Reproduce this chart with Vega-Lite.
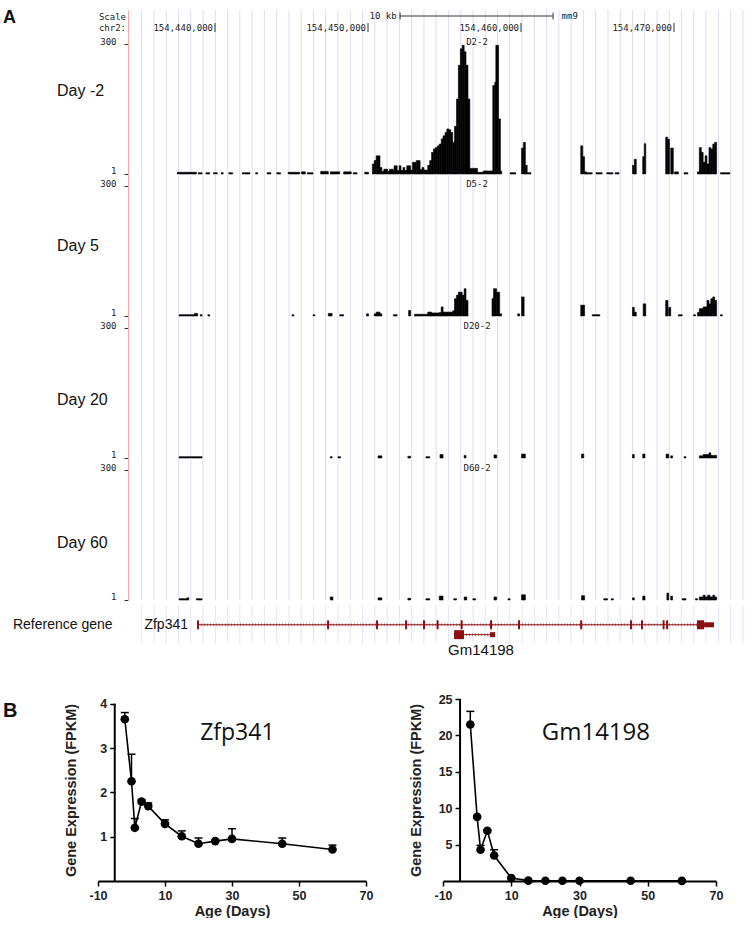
{
"$schema": "https://vega.github.io/schema/vega-lite/v6.json",
"background": "white",
"padding": {"top": 8, "left": 0, "right": 0, "bottom": 0},
"config": {"view": {"stroke": null}, "axis": {"grid": false}},
"datasets": {
"grid": [{"kb":-1.20},{"kb":-0.39},{"kb":0.41},{"kb":1.21},{"kb":2.01},{"kb":2.81},{"kb":3.62},{"kb":4.42},{"kb":5.22},{"kb":6.02},{"kb":6.82},{"kb":7.63},{"kb":8.43},{"kb":9.23},{"kb":10.03},{"kb":10.83},{"kb":11.64},{"kb":12.44},{"kb":13.24},{"kb":14.04},{"kb":14.84},{"kb":15.65},{"kb":16.45},{"kb":17.25},{"kb":18.05},{"kb":18.85},{"kb":19.66},{"kb":20.46},{"kb":21.26},{"kb":22.06},{"kb":22.86},{"kb":23.66},{"kb":24.47},{"kb":25.27},{"kb":26.07},{"kb":26.87},{"kb":27.67},{"kb":28.48},{"kb":29.28},{"kb":30.08},{"kb":30.88},{"kb":31.68},{"kb":32.49},{"kb":33.29},{"kb":34.09},{"kb":34.89},{"kb":35.69},{"kb":36.50},{"kb":37.30},{"kb":38.10}],
"coords": [{"label":"154,440,000","kb":3.595},{"label":"154,450,000","kb":13.595},{"label":"154,460,000","kb":23.595},{"label":"154,470,000","kb":33.595}],
"genes": [{"gene":"Zfp341","start":2.48,"end":36.21,"lane":1},{"gene":"Gm14198","start":19.22,"end":21.90,"lane":2}],
"exons": [
{"gene":"Zfp341","s":2.42,"e":2.55,"lane":1,"kind":"cds"},
{"gene":"Zfp341","s":10.92,"e":11.05,"lane":1,"kind":"cds"},
{"gene":"Zfp341","s":14.12,"e":14.25,"lane":1,"kind":"cds"},
{"gene":"Zfp341","s":16.02,"e":16.15,"lane":1,"kind":"cds"},
{"gene":"Zfp341","s":17.19,"e":17.32,"lane":1,"kind":"cds"},
{"gene":"Zfp341","s":18.08,"e":18.21,"lane":1,"kind":"cds"},
{"gene":"Zfp341","s":19.65,"e":19.78,"lane":1,"kind":"cds"},
{"gene":"Zfp341","s":21.57,"e":21.70,"lane":1,"kind":"cds"},
{"gene":"Zfp341","s":23.40,"e":23.53,"lane":1,"kind":"cds"},
{"gene":"Zfp341","s":27.46,"e":27.59,"lane":1,"kind":"cds"},
{"gene":"Zfp341","s":30.72,"e":30.85,"lane":1,"kind":"cds"},
{"gene":"Zfp341","s":31.44,"e":31.57,"lane":1,"kind":"cds"},
{"gene":"Zfp341","s":32.85,"e":32.98,"lane":1,"kind":"cds"},
{"gene":"Zfp341","s":33.08,"e":33.21,"lane":1,"kind":"cds"},
{"gene":"Zfp341","s":35.10,"e":35.56,"lane":1,"kind":"cds"},
{"gene":"Zfp341","s":35.56,"e":36.21,"lane":1,"kind":"utr"},
{"gene":"Gm14198","s":19.22,"e":19.87,"lane":2,"kind":"cds"},
{"gene":"Gm14198","s":21.57,"e":21.90,"lane":2,"kind":"utr"}
],
"cov": [
{"t":"D2-2","s":1.13,"e":2.38,"v":4},{"t":"D2-2","s":2.50,"e":2.75,"v":3},{"t":"D2-2","s":3.00,"e":3.25,"v":3},{"t":"D2-2","s":3.50,"e":3.75,"v":3},{"t":"D2-2","s":4.00,"e":4.13,"v":3},{"t":"D2-2","s":4.50,"e":4.75,"v":3},{"t":"D2-2","s":5.38,"e":5.88,"v":3},{"t":"D2-2","s":6.25,"e":6.38,"v":3},{"t":"D2-2","s":7.00,"e":7.25,"v":3},{"t":"D2-2","s":7.63,"e":7.88,"v":3},{"t":"D2-2","s":8.38,"e":9.13,"v":4},{"t":"D2-2","s":9.25,"e":9.50,"v":5},{"t":"D2-2","s":9.63,"e":10.00,"v":3},{"t":"D2-2","s":10.50,"e":11.00,"v":6},{"t":"D2-2","s":11.13,"e":11.75,"v":5},{"t":"D2-2","s":12.00,"e":12.50,"v":5},{"t":"D2-2","s":12.63,"e":12.88,"v":3},{"t":"D2-2","s":13.38,"e":13.63,"v":4},
{"t":"D2-2","s":13.88,"e":14.00,"v":23},{"t":"D2-2","s":14.00,"e":14.13,"v":31},{"t":"D2-2","s":14.13,"e":14.38,"v":42},{"t":"D2-2","s":14.38,"e":14.50,"v":15},{"t":"D2-2","s":14.50,"e":14.63,"v":6},{"t":"D2-2","s":14.63,"e":14.88,"v":11},{"t":"D2-2","s":14.88,"e":15.00,"v":6},{"t":"D2-2","s":15.00,"e":15.25,"v":11},{"t":"D2-2","s":15.25,"e":15.30,"v":7},{"t":"D2-2","s":15.30,"e":15.50,"v":19},{"t":"D2-2","s":15.50,"e":15.63,"v":8},{"t":"D2-2","s":15.63,"e":15.75,"v":19},{"t":"D2-2","s":15.75,"e":15.88,"v":8},{"t":"D2-2","s":15.88,"e":16.00,"v":15},{"t":"D2-2","s":16.00,"e":16.13,"v":8},{"t":"D2-2","s":16.13,"e":16.38,"v":19},{"t":"D2-2","s":16.38,"e":16.50,"v":9},{"t":"D2-2","s":16.50,"e":16.75,"v":27},{"t":"D2-2","s":16.75,"e":17.00,"v":31},{"t":"D2-2","s":17.00,"e":17.13,"v":10},{"t":"D2-2","s":17.13,"e":17.25,"v":15},{"t":"D2-2","s":17.25,"e":17.50,"v":9},
{"t":"D2-2","s":17.50,"e":17.63,"v":20},{"t":"D2-2","s":17.63,"e":17.75,"v":31},{"t":"D2-2","s":17.75,"e":17.88,"v":50},{"t":"D2-2","s":17.88,"e":18.00,"v":58},{"t":"D2-2","s":18.00,"e":18.13,"v":61},{"t":"D2-2","s":18.13,"e":18.25,"v":65},{"t":"D2-2","s":18.25,"e":18.38,"v":69},{"t":"D2-2","s":18.38,"e":18.50,"v":81},{"t":"D2-2","s":18.50,"e":18.63,"v":88},{"t":"D2-2","s":18.63,"e":18.75,"v":96},{"t":"D2-2","s":18.75,"e":18.88,"v":104},{"t":"D2-2","s":18.88,"e":19.00,"v":102},{"t":"D2-2","s":19.00,"e":19.13,"v":96},{"t":"D2-2","s":19.13,"e":19.25,"v":73},{"t":"D2-2","s":19.25,"e":19.38,"v":110},
{"t":"D2-2","s":19.38,"e":19.50,"v":173},{"t":"D2-2","s":19.50,"e":19.63,"v":251},{"t":"D2-2","s":19.63,"e":19.75,"v":289},{"t":"D2-2","s":19.75,"e":19.88,"v":297},{"t":"D2-2","s":19.88,"e":20.00,"v":282},{"t":"D2-2","s":20.00,"e":20.13,"v":251},{"t":"D2-2","s":20.13,"e":20.25,"v":173},{"t":"D2-2","s":20.25,"e":20.75,"v":13},{"t":"D2-2","s":20.75,"e":21.13,"v":4},{"t":"D2-2","s":21.13,"e":21.75,"v":7},
{"t":"D2-2","s":21.75,"e":21.88,"v":204},{"t":"D2-2","s":21.88,"e":21.95,"v":212},{"t":"D2-2","s":21.95,"e":22.13,"v":297},{"t":"D2-2","s":22.13,"e":22.25,"v":127},{"t":"D2-2","s":22.25,"e":22.33,"v":7},{"t":"D2-2","s":22.88,"e":23.25,"v":3},
{"t":"D2-2","s":23.63,"e":23.75,"v":60},{"t":"D2-2","s":23.75,"e":23.88,"v":73},{"t":"D2-2","s":23.88,"e":24.00,"v":20},{"t":"D2-2","s":24.00,"e":24.25,"v":3},
{"t":"D2-2","s":27.50,"e":27.63,"v":65},{"t":"D2-2","s":27.63,"e":27.75,"v":40},{"t":"D2-2","s":27.75,"e":27.88,"v":5},{"t":"D2-2","s":27.88,"e":28.25,"v":3},{"t":"D2-2","s":28.50,"e":28.90,"v":3},{"t":"D2-2","s":29.20,"e":29.60,"v":3},{"t":"D2-2","s":29.75,"e":30.00,"v":3},
{"t":"D2-2","s":30.88,"e":31.00,"v":20},{"t":"D2-2","s":31.00,"e":31.13,"v":34},{"t":"D2-2","s":31.55,"e":31.65,"v":40},{"t":"D2-2","s":31.65,"e":31.75,"v":70},
{"t":"D2-2","s":33.05,"e":33.18,"v":85},{"t":"D2-2","s":33.18,"e":33.30,"v":80},{"t":"D2-2","s":33.38,"e":33.55,"v":60},{"t":"D2-2","s":33.63,"e":33.88,"v":5},{"t":"D2-2","s":34.25,"e":34.50,"v":3},
{"t":"D2-2","s":35.13,"e":35.25,"v":5},{"t":"D2-2","s":35.25,"e":35.38,"v":61},{"t":"D2-2","s":35.38,"e":35.50,"v":50},{"t":"D2-2","s":35.50,"e":35.63,"v":27},{"t":"D2-2","s":35.63,"e":35.75,"v":42},{"t":"D2-2","s":35.75,"e":35.88,"v":23},{"t":"D2-2","s":35.88,"e":36.00,"v":61},{"t":"D2-2","s":36.00,"e":36.13,"v":58},{"t":"D2-2","s":36.13,"e":36.25,"v":69},{"t":"D2-2","s":36.25,"e":36.38,"v":73},{"t":"D2-2","s":36.63,"e":37.25,"v":3},
{"t":"D5-2","s":1.25,"e":2.25,"v":3},{"t":"D5-2","s":2.25,"e":2.45,"v":6},{"t":"D5-2","s":2.63,"e":2.75,"v":3},{"t":"D5-2","s":3.13,"e":3.25,"v":3},{"t":"D5-2","s":8.63,"e":8.75,"v":3},{"t":"D5-2","s":10.00,"e":10.13,"v":3},{"t":"D5-2","s":11.00,"e":11.25,"v":6},{"t":"D5-2","s":11.75,"e":12.00,"v":3},{"t":"D5-2","s":13.50,"e":13.63,"v":5},{"t":"D5-2","s":14.00,"e":14.13,"v":5},{"t":"D5-2","s":14.13,"e":14.38,"v":9},{"t":"D5-2","s":14.38,"e":14.50,"v":5},{"t":"D5-2","s":15.25,"e":15.50,"v":3},{"t":"D5-2","s":16.25,"e":16.38,"v":13},{"t":"D5-2","s":16.63,"e":17.50,"v":4},{"t":"D5-2","s":17.50,"e":17.75,"v":9},{"t":"D5-2","s":17.75,"e":18.25,"v":7},{"t":"D5-2","s":18.25,"e":18.38,"v":8},{"t":"D5-2","s":18.38,"e":18.50,"v":21},{"t":"D5-2","s":18.50,"e":19.13,"v":9},{"t":"D5-2","s":19.13,"e":19.25,"v":12},{"t":"D5-2","s":19.25,"e":19.38,"v":40},{"t":"D5-2","s":19.38,"e":19.50,"v":48},{"t":"D5-2","s":19.50,"e":19.75,"v":55},{"t":"D5-2","s":19.75,"e":19.88,"v":48},{"t":"D5-2","s":19.88,"e":20.00,"v":63},{"t":"D5-2","s":20.00,"e":20.13,"v":36},{"t":"D5-2","s":21.70,"e":21.80,"v":40},{"t":"D5-2","s":21.80,"e":22.00,"v":63},{"t":"D5-2","s":22.00,"e":22.20,"v":55},{"t":"D5-2","s":22.20,"e":22.33,"v":5},{"t":"D5-2","s":23.38,"e":23.50,"v":5},{"t":"D5-2","s":23.63,"e":23.80,"v":44},{"t":"D5-2","s":27.50,"e":27.75,"v":25},{"t":"D5-2","s":28.25,"e":28.75,"v":3},{"t":"D5-2","s":30.88,"e":31.00,"v":20},{"t":"D5-2","s":31.00,"e":31.13,"v":9},{"t":"D5-2","s":31.58,"e":31.75,"v":28},{"t":"D5-2","s":33.05,"e":33.20,"v":36},{"t":"D5-2","s":33.25,"e":33.38,"v":20},{"t":"D5-2","s":33.88,"e":34.13,"v":3},{"t":"D5-2","s":34.88,"e":35.00,"v":3},{"t":"D5-2","s":35.13,"e":35.25,"v":8},{"t":"D5-2","s":35.25,"e":35.50,"v":17},{"t":"D5-2","s":35.50,"e":35.75,"v":21},{"t":"D5-2","s":35.75,"e":35.88,"v":36},{"t":"D5-2","s":35.88,"e":36.00,"v":28},{"t":"D5-2","s":36.00,"e":36.13,"v":40},{"t":"D5-2","s":36.13,"e":36.25,"v":44},{"t":"D5-2","s":36.25,"e":36.38,"v":36},{"t":"D5-2","s":36.63,"e":36.75,"v":3},
{"t":"D20-2","s":1.25,"e":2.75,"v":3},{"t":"D20-2","s":11.13,"e":11.25,"v":3},{"t":"D20-2","s":11.63,"e":11.80,"v":3},{"t":"D20-2","s":14.25,"e":14.50,"v":5},{"t":"D20-2","s":16.20,"e":16.38,"v":4},{"t":"D20-2","s":17.38,"e":17.63,"v":3},{"t":"D20-2","s":18.30,"e":18.50,"v":8},{"t":"D20-2","s":19.88,"e":20.00,"v":6},{"t":"D20-2","s":21.83,"e":22.00,"v":7},{"t":"D20-2","s":23.63,"e":23.88,"v":9},{"t":"D20-2","s":27.55,"e":27.70,"v":9},{"t":"D20-2","s":30.88,"e":31.00,"v":8},{"t":"D20-2","s":31.55,"e":31.70,"v":9},{"t":"D20-2","s":33.08,"e":33.25,"v":9},{"t":"D20-2","s":33.38,"e":33.50,"v":5},{"t":"D20-2","s":34.25,"e":34.38,"v":3},{"t":"D20-2","s":35.25,"e":35.50,"v":5},{"t":"D20-2","s":35.50,"e":35.88,"v":8},{"t":"D20-2","s":35.88,"e":36.00,"v":12},{"t":"D20-2","s":36.00,"e":36.38,"v":6},
{"t":"D60-2","s":1.25,"e":1.75,"v":3},{"t":"D60-2","s":1.75,"e":1.88,"v":5},{"t":"D60-2","s":2.38,"e":2.75,"v":3},{"t":"D60-2","s":11.13,"e":11.30,"v":7},{"t":"D60-2","s":14.25,"e":14.50,"v":5},{"t":"D60-2","s":16.20,"e":16.38,"v":4},{"t":"D60-2","s":17.38,"e":17.63,"v":3},{"t":"D60-2","s":18.25,"e":18.50,"v":9},{"t":"D60-2","s":19.20,"e":19.38,"v":3},{"t":"D60-2","s":19.88,"e":20.05,"v":7},{"t":"D60-2","s":20.45,"e":20.63,"v":3},{"t":"D60-2","s":21.83,"e":22.00,"v":7},{"t":"D60-2","s":22.75,"e":22.88,"v":3},{"t":"D60-2","s":23.63,"e":23.88,"v":12},{"t":"D60-2","s":27.55,"e":27.75,"v":10},{"t":"D60-2","s":29.00,"e":29.25,"v":3},{"t":"D60-2","s":29.50,"e":29.63,"v":3},{"t":"D60-2","s":30.88,"e":31.00,"v":5},{"t":"D60-2","s":31.55,"e":31.70,"v":9},{"t":"D60-2","s":33.13,"e":33.25,"v":16},{"t":"D60-2","s":33.38,"e":33.50,"v":9},{"t":"D60-2","s":34.13,"e":34.38,"v":3},{"t":"D60-2","s":35.00,"e":35.13,"v":3},{"t":"D60-2","s":35.25,"e":35.50,"v":7},{"t":"D60-2","s":35.50,"e":35.63,"v":11},{"t":"D60-2","s":35.63,"e":35.80,"v":7},{"t":"D60-2","s":35.80,"e":35.95,"v":11},{"t":"D60-2","s":35.95,"e":36.13,"v":7},{"t":"D60-2","s":36.13,"e":36.25,"v":11},{"t":"D60-2","s":36.25,"e":36.38,"v":7}
],
"zfp": [{"age":-2,"mean":3.65,"upper":3.80},{"age":0,"mean":2.25,"upper":2.86},{"age":1,"mean":1.20,"upper":1.41},{"age":3,"mean":1.79,"upper":1.83},{"age":5,"mean":1.69,"upper":1.76},{"age":10,"mean":1.29,"upper":1.38},{"age":15,"mean":1.01,"upper":1.13},{"age":20,"mean":0.84,"upper":0.97},{"age":25,"mean":0.90,"upper":0.92},{"age":30,"mean":0.95,"upper":1.18},{"age":45,"mean":0.84,"upper":0.97},{"age":60,"mean":0.71,"upper":0.81}],
"gm": [{"age":-2,"mean":21.5,"upper":23.3},{"age":0,"mean":8.8,"upper":8.9},{"age":1,"mean":4.3,"upper":4.9},{"age":3,"mean":6.9,"upper":7.0},{"age":5,"mean":3.5,"upper":4.3},{"age":10,"mean":0.4,"upper":0.5},{"age":15,"mean":0.05,"upper":0.1},{"age":20,"mean":0.03,"upper":0.05},{"age":25,"mean":0.03,"upper":0.05},{"age":30,"mean":0.03,"upper":0.05},{"age":45,"mean":0.03,"upper":0.05},{"age":60,"mean":0.02,"upper":0.04}]
},
"spacing": 0,
"bounds": "flush",
"vconcat": [
 {"width": 754, "height": 22, "layer": [
  {"data": {"name": "grid"}, "mark": {"type": "rule", "color": "#dcdcf6", "strokeWidth": 1}, "encoding": {"x": {"field": "kb", "type": "quantitative", "scale": {"domain": [-10.458, 38.824], "nice": false, "zero": false}, "axis": null}, "y": {"datum": 0, "type": "quantitative", "scale": {"domain": [0, 22], "reverse": true, "nice": false, "zero": false}, "axis": {"orient": "left", "offset": -128, "ticks": false, "labels": false, "title": null, "grid": false, "domainColor": "#f2aaaa", "domainWidth": 1}}, "y2": {"datum": 22}}},
  {"data": {"values": [{}]}, "mark": {"type": "text", "text": "A", "font": "Liberation Sans", "fontSize": 18, "fontWeight": "bold", "align": "left", "baseline": "alphabetic", "color": "#111"}, "encoding": {"x": {"datum": -10.26, "type": "quantitative"}, "y": {"datum": 12.5, "type": "quantitative"}}},
  {"data": {"values": [{}]}, "mark": {"type": "text", "text": "Scale", "font": "DejaVu Sans Mono", "fontSize": 9, "align": "right", "baseline": "middle", "color": "#222"}, "encoding": {"x": {"datum": -2.22, "type": "quantitative"}, "y": {"datum": 7, "type": "quantitative"}}},
  {"data": {"values": [{}]}, "mark": {"type": "text", "text": "chr2:", "font": "DejaVu Sans Mono", "fontSize": 9, "align": "right", "baseline": "middle", "color": "#222"}, "encoding": {"x": {"datum": -2.22, "type": "quantitative"}, "y": {"datum": 18, "type": "quantitative"}}},
  {"data": {"values": [{}]}, "mark": {"type": "text", "text": "10 kb", "font": "DejaVu Sans Mono", "fontSize": 9, "align": "right", "baseline": "middle", "color": "#222"}, "encoding": {"x": {"datum": 15.47, "type": "quantitative"}, "y": {"datum": 6, "type": "quantitative"}}},
  {"data": {"values": [{}]}, "mark": {"type": "text", "text": "mm9", "font": "DejaVu Sans Mono", "fontSize": 9, "align": "left", "baseline": "middle", "color": "#222"}, "encoding": {"x": {"datum": 26.25, "type": "quantitative"}, "y": {"datum": 6, "type": "quantitative"}}},
  {"data": {"values": [{}]}, "mark": {"type": "rule", "color": "#333", "strokeWidth": 1}, "encoding": {"x": {"datum": 15.69, "type": "quantitative"}, "x2": {"datum": 25.69}, "y": {"datum": 6, "type": "quantitative"}}},
  {"data": {"values": [{}]}, "mark": {"type": "rule", "color": "#333", "strokeWidth": 1}, "encoding": {"x": {"datum": 15.69, "type": "quantitative"}, "y": {"datum": 2.5, "type": "quantitative"}, "y2": {"datum": 9.5}}},
  {"data": {"values": [{}]}, "mark": {"type": "rule", "color": "#333", "strokeWidth": 1}, "encoding": {"x": {"datum": 25.69, "type": "quantitative"}, "y": {"datum": 2.5, "type": "quantitative"}, "y2": {"datum": 9.5}}},
  {"data": {"name": "coords"}, "mark": {"type": "text", "font": "DejaVu Sans Mono", "fontSize": 9, "align": "right", "baseline": "middle", "dx": -2, "color": "#222"}, "encoding": {"x": {"field": "kb", "type": "quantitative"}, "y": {"datum": 18, "type": "quantitative"}, "text": {"field": "label"}}},
  {"data": {"name": "coords"}, "mark": {"type": "rule", "color": "#333", "strokeWidth": 1}, "encoding": {"x": {"field": "kb", "type": "quantitative"}, "y": {"datum": 13, "type": "quantitative"}, "y2": {"datum": 22}}}
 ]},
 {"width": 754, "height": 142, "layer": [
  {"data": {"name": "grid"}, "mark": {"type": "rule", "color": "#dcdcf6", "strokeWidth": 1}, "encoding": {"x": {"field": "kb", "type": "quantitative", "scale": {"domain": [-10.458, 38.824], "nice": false, "zero": false}, "axis": null}}},
  {"data": {"name": "cov"}, "transform": [{"filter": "datum.t === 'D2-2'"}], "mark": {"type": "rect", "color": "#000", "stroke": "#000", "strokeWidth": 0.6}, "encoding": {"x": {"field": "s", "type": "quantitative"}, "x2": {"field": "e"}, "y": {"field": "v", "type": "quantitative", "scale": {"domain": [0, 327.7], "nice": false, "zero": true}, "axis": {"orient": "left", "offset": -128, "values": [1, 300], "title": null, "grid": false, "domainColor": "#f2aaaa", "domainWidth": 1, "tickColor": "#333", "tickSize": 4, "tickWidth": 1, "labelFont": "DejaVu Sans Mono", "labelFontSize": 9, "labelColor": "#222", "labelBaseline": "alphabetic", "labelPadding": 8}}, "y2": {"datum": 0}}},
  {"data": {"values": [{}]}, "mark": {"type": "text", "text": "D2-2", "font": "DejaVu Sans Mono", "fontSize": 9, "color": "#222", "align": "center", "baseline": "middle"}, "encoding": {"x": {"datum": 20.72, "type": "quantitative"}, "y": {"datum": 305, "type": "quantitative"}}},
  {"data": {"values": [{}]}, "mark": {"type": "text", "text": "Day -2", "font": "Liberation Sans", "fontSize": 16, "color": "#111", "align": "left", "baseline": "middle"}, "encoding": {"x": {"datum": -6.73, "type": "quantitative"}, "y": {"datum": 191, "type": "quantitative"}}}
 ]},
 {"width": 754, "height": 142, "layer": [
  {"data": {"name": "grid"}, "mark": {"type": "rule", "color": "#dcdcf6", "strokeWidth": 1}, "encoding": {"x": {"field": "kb", "type": "quantitative", "scale": {"domain": [-10.458, 38.824], "nice": false, "zero": false}, "axis": null}}},
  {"data": {"name": "cov"}, "transform": [{"filter": "datum.t === 'D5-2'"}], "mark": {"type": "rect", "color": "#000", "stroke": "#000", "strokeWidth": 0.6}, "encoding": {"x": {"field": "s", "type": "quantitative"}, "x2": {"field": "e"}, "y": {"field": "v", "type": "quantitative", "scale": {"domain": [0, 327.7], "nice": false, "zero": true}, "axis": {"orient": "left", "offset": -128, "values": [1, 300], "title": null, "grid": false, "domainColor": "#f2aaaa", "domainWidth": 1, "tickColor": "#333", "tickSize": 4, "tickWidth": 1, "labelFont": "DejaVu Sans Mono", "labelFontSize": 9, "labelColor": "#222", "labelBaseline": "alphabetic", "labelPadding": 8}}, "y2": {"datum": 0}}},
  {"data": {"values": [{}]}, "mark": {"type": "text", "text": "D5-2", "font": "DejaVu Sans Mono", "fontSize": 9, "color": "#222", "align": "center", "baseline": "middle"}, "encoding": {"x": {"datum": 20.72, "type": "quantitative"}, "y": {"datum": 305, "type": "quantitative"}}},
  {"data": {"values": [{}]}, "mark": {"type": "text", "text": "Day 5", "font": "Liberation Sans", "fontSize": 16, "color": "#111", "align": "left", "baseline": "middle"}, "encoding": {"x": {"datum": -6.73, "type": "quantitative"}, "y": {"datum": 161, "type": "quantitative"}}}
 ]},
 {"width": 754, "height": 142, "layer": [
  {"data": {"name": "grid"}, "mark": {"type": "rule", "color": "#dcdcf6", "strokeWidth": 1}, "encoding": {"x": {"field": "kb", "type": "quantitative", "scale": {"domain": [-10.458, 38.824], "nice": false, "zero": false}, "axis": null}}},
  {"data": {"name": "cov"}, "transform": [{"filter": "datum.t === 'D20-2'"}], "mark": {"type": "rect", "color": "#000", "stroke": "#000", "strokeWidth": 0.6}, "encoding": {"x": {"field": "s", "type": "quantitative"}, "x2": {"field": "e"}, "y": {"field": "v", "type": "quantitative", "scale": {"domain": [0, 327.7], "nice": false, "zero": true}, "axis": {"orient": "left", "offset": -128, "values": [1, 300], "title": null, "grid": false, "domainColor": "#f2aaaa", "domainWidth": 1, "tickColor": "#333", "tickSize": 4, "tickWidth": 1, "labelFont": "DejaVu Sans Mono", "labelFontSize": 9, "labelColor": "#222", "labelBaseline": "alphabetic", "labelPadding": 8}}, "y2": {"datum": 0}}},
  {"data": {"values": [{}]}, "mark": {"type": "text", "text": "D20-2", "font": "DejaVu Sans Mono", "fontSize": 9, "color": "#222", "align": "center", "baseline": "middle"}, "encoding": {"x": {"datum": 20.72, "type": "quantitative"}, "y": {"datum": 305, "type": "quantitative"}}},
  {"data": {"values": [{}]}, "mark": {"type": "text", "text": "Day 20", "font": "Liberation Sans", "fontSize": 16, "color": "#111", "align": "left", "baseline": "middle"}, "encoding": {"x": {"datum": -6.73, "type": "quantitative"}, "y": {"datum": 134, "type": "quantitative"}}}
 ]},
 {"width": 754, "height": 142, "layer": [
  {"data": {"name": "grid"}, "mark": {"type": "rule", "color": "#dcdcf6", "strokeWidth": 1}, "encoding": {"x": {"field": "kb", "type": "quantitative", "scale": {"domain": [-10.458, 38.824], "nice": false, "zero": false}, "axis": null}}},
  {"data": {"name": "cov"}, "transform": [{"filter": "datum.t === 'D60-2'"}], "mark": {"type": "rect", "color": "#000", "stroke": "#000", "strokeWidth": 0.6}, "encoding": {"x": {"field": "s", "type": "quantitative"}, "x2": {"field": "e"}, "y": {"field": "v", "type": "quantitative", "scale": {"domain": [0, 327.7], "nice": false, "zero": true}, "axis": {"orient": "left", "offset": -128, "values": [1, 300], "title": null, "grid": false, "domainColor": "#f2aaaa", "domainWidth": 1, "tickColor": "#333", "tickSize": 4, "tickWidth": 1, "labelFont": "DejaVu Sans Mono", "labelFontSize": 9, "labelColor": "#222", "labelBaseline": "alphabetic", "labelPadding": 8}}, "y2": {"datum": 0}}},
  {"data": {"values": [{}]}, "mark": {"type": "text", "text": "D60-2", "font": "DejaVu Sans Mono", "fontSize": 9, "color": "#222", "align": "center", "baseline": "middle"}, "encoding": {"x": {"datum": 20.72, "type": "quantitative"}, "y": {"datum": 305, "type": "quantitative"}}},
  {"data": {"values": [{}]}, "mark": {"type": "text", "text": "Day 60", "font": "Liberation Sans", "fontSize": 16, "color": "#111", "align": "left", "baseline": "middle"}, "encoding": {"x": {"datum": -6.73, "type": "quantitative"}, "y": {"datum": 131, "type": "quantitative"}}}
 ]},
 {"width": 754, "height": 99, "layer": [
  {"data": {"name": "grid"}, "mark": {"type": "rule", "color": "#dcdcf6", "strokeWidth": 1, "opacity": 0.8}, "encoding": {"x": {"field": "kb", "type": "quantitative", "scale": {"domain": [-10.458, 38.824], "nice": false, "zero": false}, "axis": null}, "y": {"datum": -1, "type": "quantitative", "scale": {"domain": [-1, 8], "reverse": true, "nice": false, "zero": false}, "axis": null}, "y2": {"datum": 2.9}}},
  {"data": {"name": "genes"}, "mark": {"type": "rule", "color": "#8b1010", "strokeWidth": 1}, "encoding": {"x": {"field": "start", "type": "quantitative"}, "x2": {"field": "end"}, "y": {"field": "lane", "type": "quantitative"}}},
  {"data": {"name": "genes"}, "mark": {"type": "rule", "color": "#8b1010", "strokeWidth": 3, "strokeDash": [1, 2], "opacity": 0.45}, "encoding": {"x": {"field": "start", "type": "quantitative"}, "x2": {"field": "end"}, "y": {"field": "lane", "type": "quantitative"}}},
  {"data": {"name": "exons"}, "mark": {"type": "bar", "orient": "horizontal", "color": "#8b1010"}, "encoding": {"x": {"field": "s", "type": "quantitative"}, "x2": {"field": "e"}, "y": {"field": "lane", "type": "quantitative"}, "size": {"field": "kind", "type": "ordinal", "scale": {"domain": ["cds", "utr"], "range": [9, 5]}, "legend": null}}},
  {"data": {"values": [{}]}, "mark": {"type": "text", "text": "Reference gene", "font": "Liberation Sans", "fontSize": 14, "color": "#111", "align": "left", "baseline": "middle"}, "encoding": {"x": {"datum": -9.61, "type": "quantitative"}, "y": {"datum": 1, "type": "quantitative"}}},
  {"data": {"values": [{}]}, "mark": {"type": "text", "text": "Zfp341", "font": "Liberation Sans", "fontSize": 14, "color": "#111", "align": "right", "baseline": "middle"}, "encoding": {"x": {"datum": 1.83, "type": "quantitative"}, "y": {"datum": 1, "type": "quantitative"}}},
  {"data": {"values": [{}]}, "mark": {"type": "text", "text": "Gm14198", "font": "Liberation Sans", "fontSize": 15, "color": "#111", "align": "center", "baseline": "middle"}, "encoding": {"x": {"datum": 20.98, "type": "quantitative"}, "y": {"datum": 3.545, "type": "quantitative"}}}
 ]},
 {"spacing": 77, "bounds": "flush", "hconcat": [
 {"width": 21, "height": 182, "data": {"values": []}, "mark": "point"},
 {"width": 268, "height": 182, "data": {"name": "zfp"}, "layer": [
  {"data": {"values": [{}]}, "mark": {"type": "rule", "color": "black", "strokeWidth": 2}, "encoding": {"x": {"datum": -5, "type": "quantitative"}, "y": {"datum": 0, "type": "quantitative"}, "y2": {"datum": 4}}},
  {"mark": {"type": "rule", "color": "black", "strokeWidth": 1.5}, "encoding": {"x": {"field": "age", "type": "quantitative"}, "y": {"field": "mean", "type": "quantitative"}, "y2": {"field": "upper"}}},
  {"mark": {"type": "tick", "orient": "horizontal", "color": "black", "size": 8, "thickness": 1.5, "opacity": 1}, "encoding": {"x": {"field": "age", "type": "quantitative"}, "y": {"field": "upper", "type": "quantitative"}}},
  {"mark": {"type": "line", "color": "black", "strokeWidth": 1.6}, "encoding": {
    "x": {"field": "age", "type": "quantitative", "scale": {"domain": [-10, 70], "nice": false, "zero": false}, "axis": {"values": [-10, 0, 10, 20, 30, 40, 50, 60, 70], "labelExpr": "'' + datum.value", "grid": false, "title": "Age (Days)", "titleFont": "Liberation Sans", "titleFontSize": 14.5, "titleFontWeight": "bold", "titleColor": "#222", "titlePadding": 3, "domainColor": "black", "domainWidth": 2, "tickColor": "black", "tickWidth": 1.5, "tickSize": 5, "labelFont": "Liberation Sans", "labelFontSize": 12.5, "labelFontWeight": "bold", "labelColor": "#222", "labelPadding": 3, "labelFlush": false, "labelOverlap": false}},
    "y": {"field": "mean", "type": "quantitative", "scale": {"domain": [0, 4.106], "nice": false, "zero": false}, "axis": {"orient": "left", "offset": -16.75, "values": [1, 2, 3, 4], "domain": false, "grid": false, "title": "Gene Expression (FPKM)", "titleFont": "Liberation Sans", "titleFontSize": 14.5, "titleFontWeight": "bold", "titleColor": "#222", "titlePadding": 21, "tickColor": "black", "tickWidth": 1.5, "tickSize": 5, "labelFont": "Liberation Sans", "labelFontSize": 12.5, "labelFontWeight": "bold", "labelColor": "#222", "labelPadding": 3, "labelOverlap": false}}}},
  {"mark": {"type": "circle", "color": "black", "size": 75, "opacity": 1}, "encoding": {"x": {"field": "age", "type": "quantitative"}, "y": {"field": "mean", "type": "quantitative"}}},
  {"data": {"values": [{}]}, "mark": {"type": "text", "text": "Zfp341", "font": "Open Sans", "fontSize": 23, "color": "#111", "align": "center", "baseline": "middle"}, "encoding": {"x": {"datum": 31.6, "type": "quantitative"}, "y": {"datum": 3.33, "type": "quantitative"}}},
  {"data": {"values": [{}]}, "mark": {"type": "text", "text": "B", "font": "Liberation Sans", "fontSize": 20, "fontWeight": "bold", "color": "#111", "align": "left", "baseline": "alphabetic"}, "encoding": {"x": {"datum": -38.36, "type": "quantitative"}, "y": {"datum": 3.70, "type": "quantitative"}}}
 ]},
 {"width": 273, "height": 182, "data": {"name": "gm"}, "layer": [
  {"data": {"values": [{}]}, "mark": {"type": "rule", "color": "black", "strokeWidth": 2}, "encoding": {"x": {"datum": -5, "type": "quantitative"}, "y": {"datum": 0, "type": "quantitative"}, "y2": {"datum": 25}}},
  {"mark": {"type": "rule", "color": "black", "strokeWidth": 1.5}, "encoding": {"x": {"field": "age", "type": "quantitative"}, "y": {"field": "mean", "type": "quantitative"}, "y2": {"field": "upper"}}},
  {"mark": {"type": "tick", "orient": "horizontal", "color": "black", "size": 8, "thickness": 1.5, "opacity": 1}, "encoding": {"x": {"field": "age", "type": "quantitative"}, "y": {"field": "upper", "type": "quantitative"}}},
  {"mark": {"type": "line", "color": "black", "strokeWidth": 1.6}, "encoding": {
    "x": {"field": "age", "type": "quantitative", "scale": {"domain": [-10, 70], "nice": false, "zero": false}, "axis": {"values": [-10, 0, 10, 20, 30, 40, 50, 60, 70], "labelExpr": "'' + datum.value", "grid": false, "title": "Age (Days)", "titleFont": "Liberation Sans", "titleFontSize": 14.5, "titleFontWeight": "bold", "titleColor": "#222", "titlePadding": 3, "domainColor": "black", "domainWidth": 2, "tickColor": "black", "tickWidth": 1.5, "tickSize": 5, "labelFont": "Liberation Sans", "labelFontSize": 12.5, "labelFontWeight": "bold", "labelColor": "#222", "labelPadding": 3, "labelFlush": false, "labelOverlap": false}},
    "y": {"field": "mean", "type": "quantitative", "scale": {"domain": [0, 25], "nice": false, "zero": false}, "axis": {"orient": "left", "offset": -17.06, "values": [5, 10, 15, 20, 25], "domain": false, "grid": false, "title": "Gene Expression (FPKM)", "titleFont": "Liberation Sans", "titleFontSize": 14.5, "titleFontWeight": "bold", "titleColor": "#222", "titlePadding": 15, "tickColor": "black", "tickWidth": 1.5, "tickSize": 5, "labelFont": "Liberation Sans", "labelFontSize": 12.5, "labelFontWeight": "bold", "labelColor": "#222", "labelPadding": 3, "labelOverlap": false}}}},
  {"mark": {"type": "circle", "color": "black", "size": 75, "opacity": 1}, "encoding": {"x": {"field": "age", "type": "quantitative"}, "y": {"field": "mean", "type": "quantitative"}}},
  {"data": {"values": [{}]}, "mark": {"type": "text", "text": "Gm14198", "font": "Open Sans", "fontSize": 24, "color": "#111", "align": "center", "baseline": "middle"}, "encoding": {"x": {"datum": 34.8, "type": "quantitative"}, "y": {"datum": 20.3, "type": "quantitative"}}}
 ]}
 ]}
]
}
